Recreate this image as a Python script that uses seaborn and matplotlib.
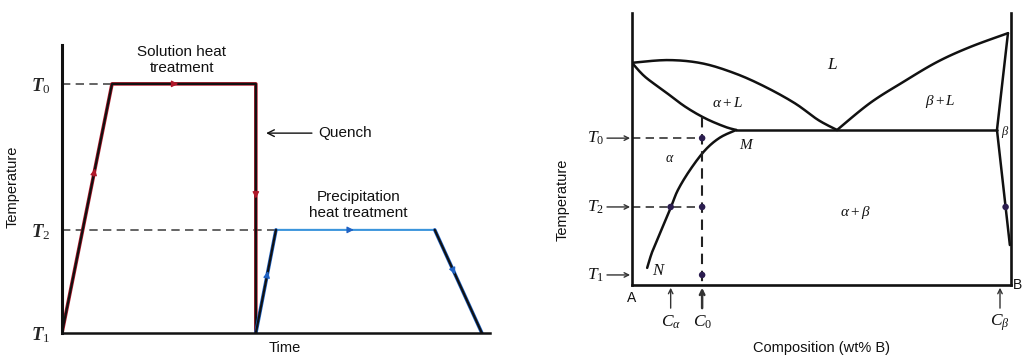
import numpy as np
import matplotlib
matplotlib.use("Agg")
import matplotlib.pyplot as plt
import seaborn as sns

# ---------------- heat-treatment schedule (left panel) ----------------
T0_sched, T2_sched, T1_sched = 8.65, 3.58, 0.0
solution_time = [0.0, 1.17, 4.53, 4.53]
solution_temp = [T1_sched, T0_sched, T0_sched, T1_sched]
precip_time = [4.53, 5.0, 8.71, 9.81]
precip_temp = [T1_sched, T2_sched, T2_sched, T1_sched]
sched_ticks = [T1_sched, T2_sched, T0_sched]
sched_tick_labels = [r"$\mathbf{T}_1$", r"$\mathbf{T}_2$", r"$\mathbf{T}_0$"]

# ---------------- A-B phase diagram (right panel) ----------------
eutectic_temp = 57.0
liq_a_comp = [0.0, 9.5, 18.5, 27.2, 35.1, 43.0, 49.1, 54.1]
liq_a_temp = [81.7, 82.7, 81.5, 77.8, 72.9, 66.8, 60.7, 57.0]
sol_a_comp = [0.0, 3.4, 8.7, 14.0, 19.3, 24.5, 27.5]
sol_a_temp = [81.7, 76.6, 71.1, 65.6, 61.3, 58.2, 57.0]
solvus_a_comp = [27.5, 23.2, 19.3, 15.3, 12.1, 10.3, 7.4, 5.3, 4.0]
solvus_a_temp = [57.0, 54.2, 49.6, 42.3, 34.9, 28.7, 19.1, 12.1, 6.3]
liq_b_comp = [54.1, 62.8, 71.5, 80.5, 89.2, 99.2]
liq_b_temp = [57.0, 66.9, 74.6, 82.0, 87.5, 92.6]
sol_b_comp = [99.2, 96.3]
sol_b_temp = [92.6, 57.0]
solvus_b_comp = [96.3, 99.7]
solvus_b_temp = [57.0, 14.7]
eutectic_comp = [27.5, 96.3]

T0_pd, T2_pd, T1_pd = 54.0, 28.7, 3.7
C0, C_alpha, C_beta = 18.5, 10.2, 97.1

sns.set_theme(style="white")
plt.rcParams["font.family"] = ["Liberation Sans", "DejaVu Sans"]
plt.rcParams["mathtext.fontset"] = "custom"
plt.rcParams["mathtext.rm"] = "Liberation Serif"
plt.rcParams["mathtext.it"] = "Liberation Serif:italic"
plt.rcParams["mathtext.bf"] = "Liberation Serif:italic:bold"

fig = plt.figure(figsize=(10.24, 3.56), dpi=100)
ax1 = fig.add_axes([0.0605, 0.0646, 0.418, 0.809])
ax2 = fig.add_axes([0.6172, 0.1994, 0.3701, 0.764])

INK = "#111111"
RED = "#b0182a"
BLUE = "#1f62c4"
DASH = (0, (5, 3.2))


def line(ax, x, y, **kw):
    sns.lineplot(x=x, y=y, ax=ax, sort=False, estimator=None, legend=False, **kw)


def smooth(xs, ys, steps=24):
    """Catmull-Rom curve passing through every given point."""
    pts = np.column_stack([xs, ys]).astype(float)
    n = len(pts)
    if n < 3:
        return pts[:, 0], pts[:, 1]
    t = np.linspace(0, 1, steps)[:, None]
    out = [pts[:1]]
    for i in range(n - 1):
        p0 = pts[max(i - 1, 0)]
        p1, p2 = pts[i], pts[i + 1]
        p3 = pts[min(i + 2, n - 1)]
        seg = 0.5 * (2 * p1 + (-p0 + p2) * t + (2 * p0 - 5 * p1 + 4 * p2 - p3) * t ** 2
                     + (-p0 + 3 * p1 - 3 * p2 + p3) * t ** 3)
        out.append(seg[1:])
    out = np.vstack(out)
    return out[:, 0], out[:, 1]


def flow_arrow(ax, xs, ys, seg, frac, color):
    x0, y0, x1, y1 = xs[seg], ys[seg], xs[seg + 1], ys[seg + 1]
    xa, ya = x0 + (x1 - x0) * frac, y0 + (y1 - y0) * frac
    xb, yb = x0 + (x1 - x0) * (frac + 0.03), y0 + (y1 - y0) * (frac + 0.03)
    ax.annotate("", xy=(xb, yb), xytext=(xa, ya),
                arrowprops=dict(arrowstyle="-|>", color=color, lw=0.8,
                                shrinkA=0, shrinkB=0, mutation_scale=10),
                zorder=6)


# ---- left panel ----
ax1.set_xlim(0, 10)
ax1.set_ylim(0, 10)
line(ax1, [0, solution_time[1]], [T0_sched, T0_sched], color="#4a4a4a", lw=1.2)
ax1.lines[-1].set_linestyle(DASH)
line(ax1, [0, precip_time[1]], [T2_sched, T2_sched], color="#4a4a4a", lw=1.2)
ax1.lines[-1].set_linestyle(DASH)

line(ax1, solution_time, solution_temp, color=RED, lw=2.6)
line(ax1, solution_time, solution_temp, color=INK, lw=1.6)
line(ax1, precip_time, precip_temp, color="#3b95dc", lw=1.5)
for a, b in [(0, 2), (2, 4)]:
    line(ax1, precip_time[a:b], precip_temp[a:b], color=BLUE, lw=2.6)
    line(ax1, precip_time[a:b], precip_temp[a:b], color=INK, lw=1.6)

flow_arrow(ax1, solution_time, solution_temp, 0, 0.63, RED)
flow_arrow(ax1, solution_time, solution_temp, 1, 0.43, RED)
flow_arrow(ax1, solution_time, solution_temp, 2, 0.43, RED)
flow_arrow(ax1, precip_time, precip_temp, 0, 0.57, BLUE)
flow_arrow(ax1, precip_time, precip_temp, 1, 0.46, BLUE)
flow_arrow(ax1, precip_time, precip_temp, 2, 0.40, BLUE)

ax1.set_yticks(sched_ticks, sched_tick_labels, fontsize=13.5)
ax1.set_xticks([])
ax1.tick_params(axis="y", length=0, pad=8)
for s in ["top", "right"]:
    ax1.spines[s].set_visible(False)
for s in ["left", "bottom"]:
    ax1.spines[s].set_linewidth(2.2)
    ax1.spines[s].set_color(INK)
ax1.spines["bottom"].set_linewidth(1.8)

ax1.text(2.8, 9.48, "Solution heat\ntreatment", ha="center", va="center",
         fontsize=11, linespacing=1.15, color=INK)
ax1.text(6.92, 4.44, "Precipitation\nheat treatment", ha="center", va="center",
         fontsize=11, linespacing=1.15, color=INK)
ax1.annotate("", xy=(4.77, 6.94), xytext=(5.84, 6.94),
             arrowprops=dict(arrowstyle="->", lw=1.0, color=INK, shrinkA=0, shrinkB=0))
ax1.text(5.98, 6.94, "Quench", ha="left", va="center", fontsize=11, color=INK)
ax1.text(0.521, -0.052, "Time", transform=ax1.transAxes, ha="center", va="center",
         fontsize=10.5, color=INK)
ax1.text(-0.1145, 0.507, "Temperature", transform=ax1.transAxes, ha="center", va="center",
         rotation=90, fontsize=10.5, color=INK)

# ---- right panel ----
ax2.set_xlim(0, 100)
ax2.set_ylim(0, 100)
curve_kw = dict(color=INK, lw=1.8)
for cx, cy in [(liq_a_comp, liq_a_temp), (sol_a_comp, sol_a_temp),
               (solvus_a_comp, solvus_a_temp), (liq_b_comp, liq_b_temp)]:
    sx, sy = smooth(cx, cy)
    line(ax2, sx, sy, **curve_kw)
line(ax2, sol_b_comp, sol_b_temp, **curve_kw)
line(ax2, solvus_b_comp, solvus_b_temp, **curve_kw)
line(ax2, eutectic_comp, [eutectic_temp, eutectic_temp], **curve_kw)

c0_top = float(np.interp(C0, sol_a_comp, sol_a_temp))
line(ax2, [0, C0], [T0_pd, T0_pd], color="#333333", lw=1.2)
ax2.lines[-1].set_linestyle(DASH)
line(ax2, [0, C0], [T2_pd, T2_pd], color="#333333", lw=1.2)
ax2.lines[-1].set_linestyle(DASH)
line(ax2, [C0, C0], [c0_top, 0], color="#222222", lw=1.5)
ax2.lines[-1].set_linestyle(DASH)

c_beta_t2 = float(np.interp(T2_pd, solvus_b_temp[::-1], solvus_b_comp[::-1]))
dot_x = [C0, C0, C0, C_alpha, c_beta_t2]
dot_y = [T0_pd, T2_pd, T1_pd, T2_pd, T2_pd]
sns.scatterplot(x=dot_x, y=dot_y, ax=ax2, color="#2b1d4f", s=22, edgecolor="none",
                zorder=5, legend=False)

for s in ["left", "right", "bottom"]:
    ax2.spines[s].set_linewidth(1.9)
    ax2.spines[s].set_color(INK)
ax2.spines["top"].set_visible(False)
ax2.set_xticks([])
ax2.set_yticks([])

arrow_kw = dict(arrowstyle="->", lw=1.0, color="#333333", shrinkA=0, shrinkB=0,
                mutation_scale=8)
for lvl, lab in [(T0_pd, r"$T_0$"), (T2_pd, r"$T_2$"), (T1_pd, r"$T_1$")]:
    ax2.annotate("", xy=(-0.5, lvl), xytext=(-6.6, lvl), arrowprops=arrow_kw,
                 annotation_clip=False)
    ax2.text(-7.4, lvl, lab, ha="right", va="center", fontsize=12.5, color=INK,
             clip_on=False)

for cx, lab, lw in [(C_alpha, r"$C_\alpha$", 1.0), (C0, r"$C_0$", 1.8), (C_beta, r"$C_\beta$", 1.0)]:
    kw = dict(arrow_kw)
    kw["lw"] = lw
    ax2.annotate("", xy=(cx, -1.0), xytext=(cx, -8.5), arrowprops=kw,
                 annotation_clip=False)
    ax2.text(cx, -13.8, lab, ha="center", va="center", fontsize=12.5, color=INK,
             clip_on=False)

ax2.text(0, -4.8, "A", ha="center", va="center", fontsize=10, color=INK)
ax2.text(102.9, 0, "B", ha="right", va="center", fontsize=10, color=INK)

region_labels = [
    (52.8, 80.9, r"$L$", 12.5),
    (25.1, 66.9, r"$\alpha + L$", 11),
    (81.3, 67.3, r"$\beta + L$", 11),
    (98.4, 56.2, r"$\beta$", 9),
    (30.3, 51.5, r"$M$", 11),
    (10.0, 46.7, r"$\alpha$", 10),
    (58.8, 26.5, r"$\alpha + \beta$", 11),
    (7.0, 5.5, r"$N$", 12),
]
for x, y, lab, fs in region_labels:
    ax2.text(x, y, lab, ha="center", va="center", fontsize=fs, color=INK)

ax2.text(0.501, -0.232, "Composition (wt% B)", transform=ax2.transAxes, ha="center",
         va="center", fontsize=10.5, color=INK)
ax2.text(-0.182, 0.3125, "Temperature", transform=ax2.transAxes, ha="center",
         va="center", rotation=90, fontsize=10.5, color=INK)

fig.savefig("out.png", dpi=100)
